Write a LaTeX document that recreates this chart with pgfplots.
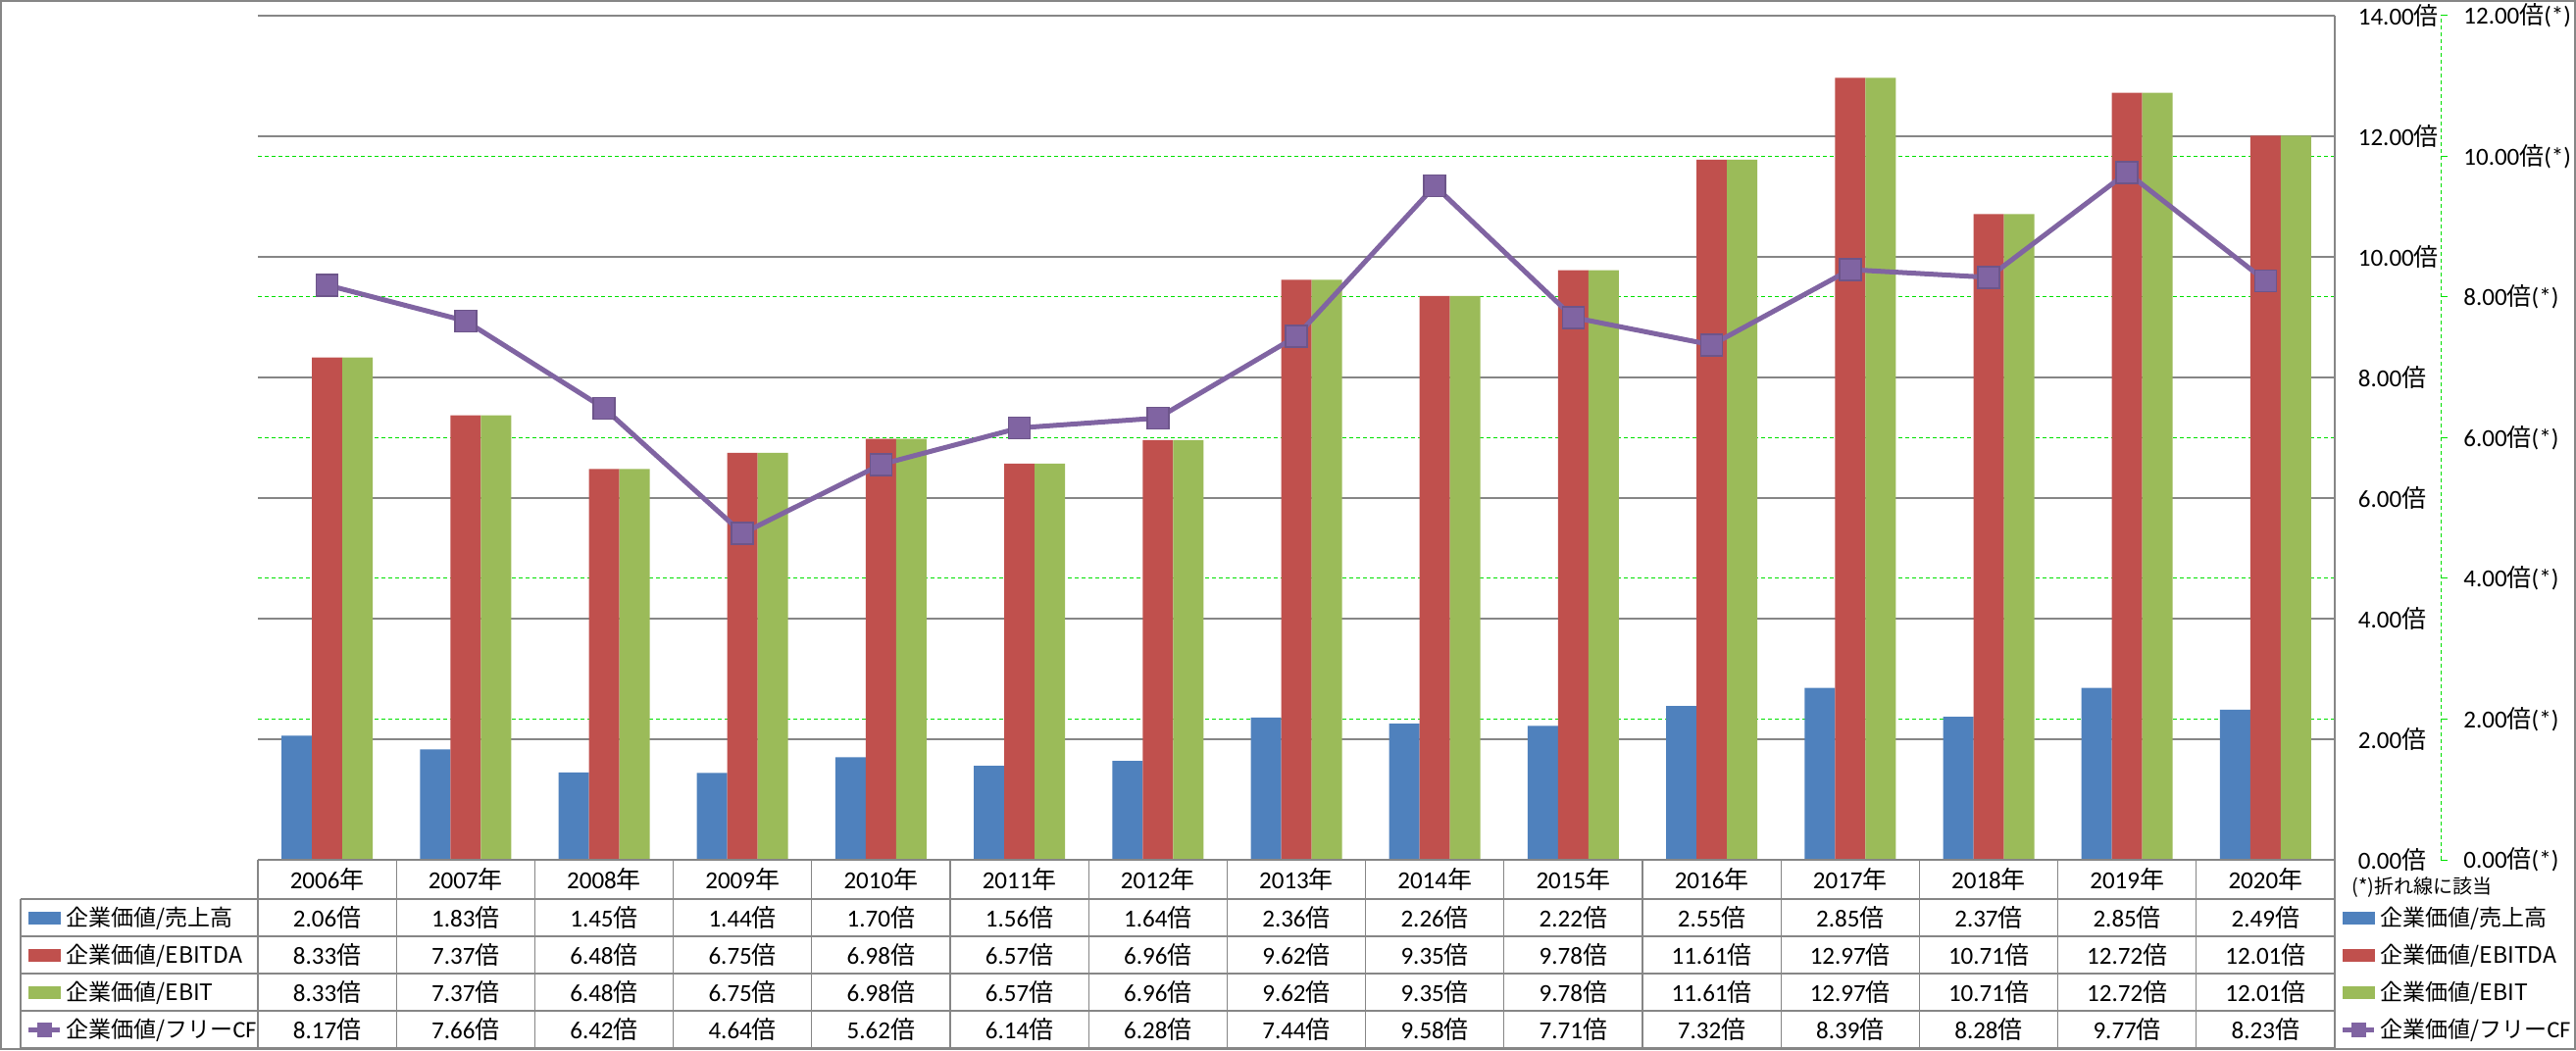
\documentclass[border=0pt]{standalone}
\usepackage{fontspec}
\setmainfont{Carlito}
\newfontfamily\jp{Noto Sans CJK JP}
\usepackage{pgfplots}
\usepackage{pgfplotstable}
\pgfplotsset{compat=1.18}
\definecolor{cblue}{HTML}{4F81BD}
\definecolor{cred}{HTML}{C0504D}
\definecolor{cgreen}{HTML}{9BBB59}
\definecolor{cpurple}{HTML}{8064A2}
\definecolor{cgrid}{HTML}{868686}
\definecolor{cdash}{HTML}{00E000}
\newcommand\bai{{\jp 倍}}
\pgfplotstableread{
x year sales ebitda ebit fcf
0 2006 2.06 8.33 8.33 8.17
1 2007 1.83 7.37 7.37 7.66
2 2008 1.45 6.48 6.48 6.42
3 2009 1.44 6.75 6.75 4.64
4 2010 1.70 6.98 6.98 5.62
5 2011 1.56 6.57 6.57 6.14
6 2012 1.64 6.96 6.96 6.28
7 2013 2.36 9.62 9.62 7.44
8 2014 2.26 9.35 9.35 9.58
9 2015 2.22 9.78 9.78 7.71
10 2016 2.55 11.61 11.61 7.32
11 2017 2.85 12.97 12.97 8.39
12 2018 2.37 10.71 10.71 8.28
13 2019 2.85 12.72 12.72 9.77
14 2020 2.49 12.01 12.01 8.23
}\data
\pgfplotsset{
  commonax/.style={at={(105.2pt,77.6pt)}, anchor=south west, scale only axis,
    width=847.2pt, height=344.4pt, xmin=-0.5, xmax=14.5},
  tablelegend/.style={legend cell align=left,
    legend style={at={#1}, anchor=north west, draw=none, fill=none, inner sep=0pt,
      row sep=0pt, column sep=0pt, font=\jp\fontsize{9.2}{11}\selectfont,
      nodes={inner xsep=1.6pt, inner ysep=0pt, minimum height=15.2pt}}},
}
\newcommand\legimgs{%
  \addlegendimage{legend image code/.code={\fill[cblue] (0pt,-2.4pt) rectangle (12.8pt,2.4pt);}}
  \addlegendentry{企業価値/売上高}
  \addlegendimage{legend image code/.code={\fill[cred] (0pt,-2.4pt) rectangle (12.8pt,2.4pt);}}
  \addlegendentry{企業価値/EBITDA}
  \addlegendimage{legend image code/.code={\fill[cgreen] (0pt,-2.4pt) rectangle (12.8pt,2.4pt);}}
  \addlegendentry{企業価値/EBIT}
  \addlegendimage{legend image code/.code={\draw[cpurple, line width=2pt] (0pt,0pt) -- (12.8pt,0pt);
      \fill[cpurple] (3.6pt,-2.8pt) rectangle (9.2pt,2.8pt);}}
  \addlegendentry{企業価値/フリー{\rmfamily\fontsize{9.6}{11}\selectfont CF}}
}
\begin{document}
\begin{tikzpicture}
\path[use as bounding box] (0,0) rectangle (1050.8pt,428.4pt);
% secondary-scale grid (behind bars)
\begin{axis}[commonax, ymin=0, ymax=12,
  axis line style={draw=none}, xtick=\empty, ytick={2,4,6,8,10}, yticklabels={},
  major tick length=0pt, ymajorgrids,
  grid style={cdash, line width=0.4pt, dash pattern=on 1.6pt off 1.2pt}]
\end{axis}
% bars
\begin{axis}[commonax, ymin=0, ymax=14,
  ybar, bar width=12.4pt,
  axis line style={draw=none}, xtick=\empty,
  ytick={0,2,...,14},
  yticklabels={0.00\bai,2.00\bai,4.00\bai,6.00\bai,8.00\bai,10.00\bai,12.00\bai,14.00\bai},
  yticklabel pos=right, yticklabel style={anchor=west, xshift=6pt},
  major tick length=0pt,
  ymajorgrids, grid style={cgrid, line width=0.5pt},
  clip=false, tablelegend={(-0.1119,-0.0465)}]
\addplot[fill=cblue, draw=none, forget plot, bar shift=-12.4pt] table[x=x, y=sales] {\data};
\addplot[fill=cred, draw=none, forget plot, bar shift=0pt] table[x=x, y=ebitda] {\data};
\addplot[fill=cgreen, draw=none, forget plot, bar shift=12.4pt] table[x=x, y=ebit] {\data};
\legimgs
\end{axis}
% line on secondary scale
\begin{axis}[commonax, ymin=0, ymax=12, hide axis, clip=false,
  tablelegend={(1.0024,-0.0465)}]
\addplot[cpurple, line width=2pt, mark=square*, mark size=4.4pt,
  mark options={fill=cpurple, draw=cpurple!85!black, line width=0.6pt}, forget plot]
  table[x=x, y=fcf] {\data};
\legimgs
\end{axis}
% secondary axis line
\begin{axis}[at={(105.2pt,77.6pt)}, anchor=south west, scale only axis,
  width=890.4pt, height=344.4pt, xmin=0, xmax=1, ymin=0, ymax=12,
  axis x line=none, axis y line*=right,
  every outer y axis line/.append style={-},
  y axis line style={-, cdash, line width=0.4pt, dash pattern=on 1.6pt off 1.2pt},
  ytick={0,2,...,12},
  yticklabels={0.00\bai(*),2.00\bai(*),4.00\bai(*),6.00\bai(*),8.00\bai(*),10.00\bai(*),12.00\bai(*)},
  tick style={cdash, line width=0.4pt}, tick align=outside, major tick length=2.8pt,
  yticklabel style={anchor=west, xshift=3pt}]
\end{axis}
% data table and frame
\begin{scope}[x=0.4pt, y=-0.4pt, shift={(0pt,428.4pt)}]
\draw[cgrid, line width=0.8pt] (1,1) rectangle (2626,1070);
\draw[cgrid, line width=0.5pt] (263,877) -- (2381,877);
\foreach \yy in {917,955,993,1031,1069} \draw[cgrid, line width=0.5pt] (21,\yy) -- (2381,\yy);
\foreach \k in {0,...,14} \draw[cgrid, line width=0.5pt] ({263+141.2*\k},877) -- ({263+141.2*\k},1069);
\draw[cgrid, line width=0.5pt] (2381,16) -- (2381,1069);
\draw[cgrid, line width=0.5pt] (21,917) -- (21,1069);
\foreach \i in {0,...,14} {
  \pgfplotstablegetelem{\i}{year}\of\data \edef\yr{\pgfplotsretval}
  \node at ({333.6+141.2*\i},897) {\yr{\jp 年}};
  \pgfplotstablegetelem{\i}{sales}\of\data \edef\va{\pgfplotsretval}
  \node at ({333.6+141.2*\i},936) {\pgfmathprintnumber[fixed,fixed zerofill,precision=2,assume math mode=true]{\va}\bai};
  \pgfplotstablegetelem{\i}{ebitda}\of\data \edef\vb{\pgfplotsretval}
  \node at ({333.6+141.2*\i},974) {\pgfmathprintnumber[fixed,fixed zerofill,precision=2,assume math mode=true]{\vb}\bai};
  \pgfplotstablegetelem{\i}{ebit}\of\data \edef\vc{\pgfplotsretval}
  \node at ({333.6+141.2*\i},1012) {\pgfmathprintnumber[fixed,fixed zerofill,precision=2,assume math mode=true]{\vc}\bai};
  \pgfplotstablegetelem{\i}{fcf}\of\data \edef\vd{\pgfplotsretval}
  \node at ({333.6+141.2*\i},1050) {\pgfmathprintnumber[fixed,fixed zerofill,precision=2,assume math mode=true]{\vd}\bai};
}
\node[anchor=west, font=\jp\fontsize{8}{9}\selectfont, inner sep=0pt] at (2398,905) {(*)折れ線に該当};
\end{scope}
\end{tikzpicture}
\end{document}
